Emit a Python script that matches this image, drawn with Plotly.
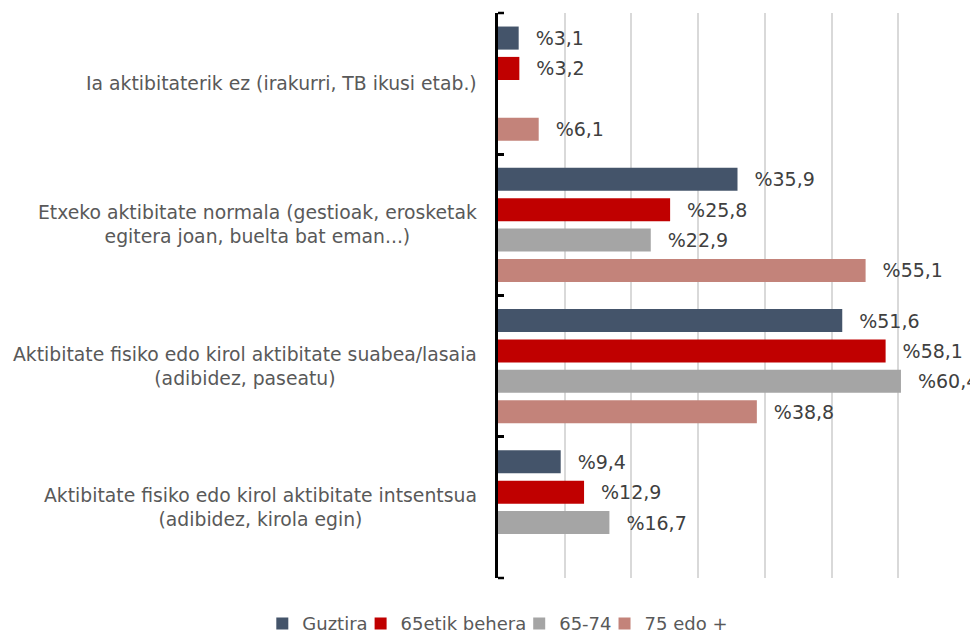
import plotly.graph_objects as go

categories = [
    "Ia aktibitaterik ez (irakurri, TB ikusi etab.)",
    "Etxeko aktibitate normala (gestioak, erosketak<br>egitera joan, buelta bat eman...)",
    "Aktibitate fisiko edo kirol aktibitate suabea/lasaia<br>(adibidez, paseatu)",
    "Aktibitate fisiko edo kirol aktibitate intsentsua<br>(adibidez, kirola egin)",
]
series_names = ["Guztira", "65etik behera", "65-74", "75 edo +"]
guztira = [3.1, 35.9, 51.6, 9.4]
behera65 = [3.2, 25.8, 58.1, 12.9]
adin6574 = [None, 22.9, 60.4, 16.7]
edo75 = [6.1, 55.1, 38.8, None]
colors = ["#44546A", "#C00000", "#A5A5A5", "#C3837A"]

FONT = "DejaVu Sans, Verdana, sans-serif"


def fmt(v):
    if v is None:
        return ""
    return "\u00a0\u00a0\u200a%" + f"{v:.1f}".replace(".", ",")


fig = go.Figure()
for name, vals, col in zip(series_names, [guztira, behera65, adin6574, edo75], colors):
    fig.add_trace(go.Bar(
        name=name,
        y=categories,
        x=vals,
        orientation="h",
        marker=dict(color=col, line=dict(width=0)),
        text=[fmt(v) for v in vals],
        textposition="outside",
        textfont=dict(family=FONT, size=19, color="#404040"),
        cliponaxis=False,
        constraintext="none",
        hoverinfo="skip",
    ))

for c in categories:
    fig.add_annotation(
        x=0, xref="paper", xshift=-19, xanchor="right",
        y=c, yref="y", yanchor="middle",
        text=c, align="center", showarrow=False,
        font=dict(family=FONT, size=18.8, color="#595959"),
    )

# tick marks at the very top and bottom of the category axis
for yd in (0, 1):
    fig.add_shape(type="line", xref="paper", yref="y domain",
                  x0=0, x1=6 / 467, y0=yd, y1=yd,
                  line=dict(color="black", width=2.5))

fig.update_layout(
    width=970, height=627,
    barmode="group",
    bargap=0.14,
    bargroupgap=0.24,
    margin=dict(l=490, r=13, t=5, b=57, autoexpand=False),
    plot_bgcolor="white",
    paper_bgcolor="white",
    font=dict(family=FONT, color="#595959", size=18),
    legend=dict(
        orientation="h", xref="paper", x=-0.479, xanchor="left",
        yref="paper", y=-0.081, yanchor="middle",
        font=dict(family=FONT, size=18, color="#595959"),
        traceorder="normal",
        itemwidth=30,
        indentation=-12,
    ),
    showlegend=True,
)
fig.update_xaxes(
    range=[0, 70], dtick=10, showgrid=True, gridcolor="#D9D9D9", gridwidth=1.5,
    showticklabels=False, zeroline=False, showline=False, ticks="",
)
fig.update_yaxes(
    type="category", categoryorder="array", categoryarray=categories,
    autorange="reversed",
    tickson="boundaries", ticks="inside", ticklen=6, tickwidth=2.5, tickcolor="black",
    showline=True, linecolor="black", linewidth=2.5, showgrid=False, zeroline=False,
    showticklabels=False,
)

fig.write_html("out.html")
